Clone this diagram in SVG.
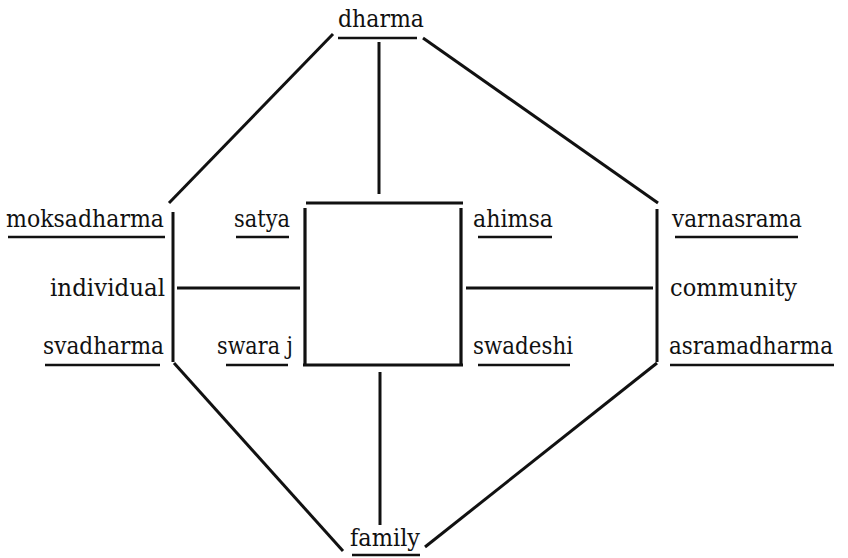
<svg xmlns="http://www.w3.org/2000/svg" width="848" height="558" viewBox="0 0 848 558">
<style>
  text { font-family: 'DejaVu Serif', 'Liberation Serif', serif; font-size: 25px; fill: #111; }
  line { stroke: #111; stroke-linecap: butt; }
  .c line { stroke-width: 3; }
  .u { stroke-width: 2.6; }
</style>
<rect width="848" height="558" fill="#fff"/>
<g id="connectors" class="c">
  <line x1="333" y1="34" x2="169" y2="203"/>
  <line x1="423" y1="38" x2="658" y2="203"/>
  <line x1="379" y1="42" x2="379" y2="194"/>
  <line x1="174" y1="363" x2="343" y2="551"/>
  <line x1="657" y1="363" x2="425" y2="547"/>
  <line x1="380" y1="372" x2="380" y2="525"/>
  <line x1="177" y1="288" x2="300" y2="288"/>
  <line x1="466" y1="288" x2="653" y2="288"/>
  <line x1="173" y1="212" x2="173" y2="362"/>
  <line x1="657" y1="209" x2="657" y2="362"/>
</g>
<g id="square">
  <line x1="306" y1="203" x2="463" y2="203" stroke-width="3.2"/>
  <line x1="305" y1="208" x2="305" y2="365" stroke-width="3.2"/>
  <line x1="461" y1="208" x2="461" y2="365" stroke-width="3.2"/>
  <line x1="303" y1="365" x2="463" y2="365" stroke-width="3.2"/>
</g>
<g id="dharma">
  <text x="338" y="27" textLength="86" lengthAdjust="spacingAndGlyphs">dharma</text>
  <line class="u" x1="338" y1="38" x2="417" y2="38"/>
</g>
<g id="family">
  <text x="350" y="546" textLength="70" lengthAdjust="spacingAndGlyphs">family</text>
  <line class="u" x1="352" y1="555" x2="420" y2="555"/>
</g>
<g id="moksadharma">
  <text x="6" y="227" textLength="158" lengthAdjust="spacingAndGlyphs">moksadharma</text>
  <line class="u" x1="8" y1="237" x2="165" y2="237"/>
</g>
<g id="individual">
  <text x="50" y="296" textLength="115" lengthAdjust="spacingAndGlyphs">individual</text>
</g>
<g id="svadharma">
  <text x="43" y="354" textLength="121" lengthAdjust="spacingAndGlyphs">svadharma</text>
  <line class="u" x1="45" y1="365" x2="160" y2="365"/>
</g>
<g id="satya">
  <text x="234" y="227" textLength="56" lengthAdjust="spacingAndGlyphs">satya</text>
  <line class="u" x1="236" y1="237" x2="289" y2="237"/>
</g>
<g id="swaraj">
  <text x="217" y="354" textLength="76" lengthAdjust="spacingAndGlyphs">swara j</text>
  <line class="u" x1="226" y1="365" x2="288" y2="365"/>
</g>
<g id="ahimsa">
  <text x="473" y="227" textLength="80" lengthAdjust="spacingAndGlyphs">ahimsa</text>
  <line class="u" x1="478" y1="237" x2="552" y2="237"/>
</g>
<g id="swadeshi">
  <text x="473" y="354" textLength="100" lengthAdjust="spacingAndGlyphs">swadeshi</text>
  <line class="u" x1="478" y1="365" x2="570" y2="365"/>
</g>
<g id="varnasrama">
  <text x="672" y="227" textLength="130" lengthAdjust="spacingAndGlyphs">varnasrama</text>
  <line class="u" x1="675" y1="237" x2="798" y2="237"/>
</g>
<g id="community">
  <text x="670" y="296" textLength="127" lengthAdjust="spacingAndGlyphs">community</text>
</g>
<g id="asramadharma">
  <text x="669" y="354" font-size="20.5" textLength="164" lengthAdjust="spacingAndGlyphs">asramadharma</text>
  <line class="u" x1="670" y1="365" x2="834" y2="365"/>
</g>
</svg>
